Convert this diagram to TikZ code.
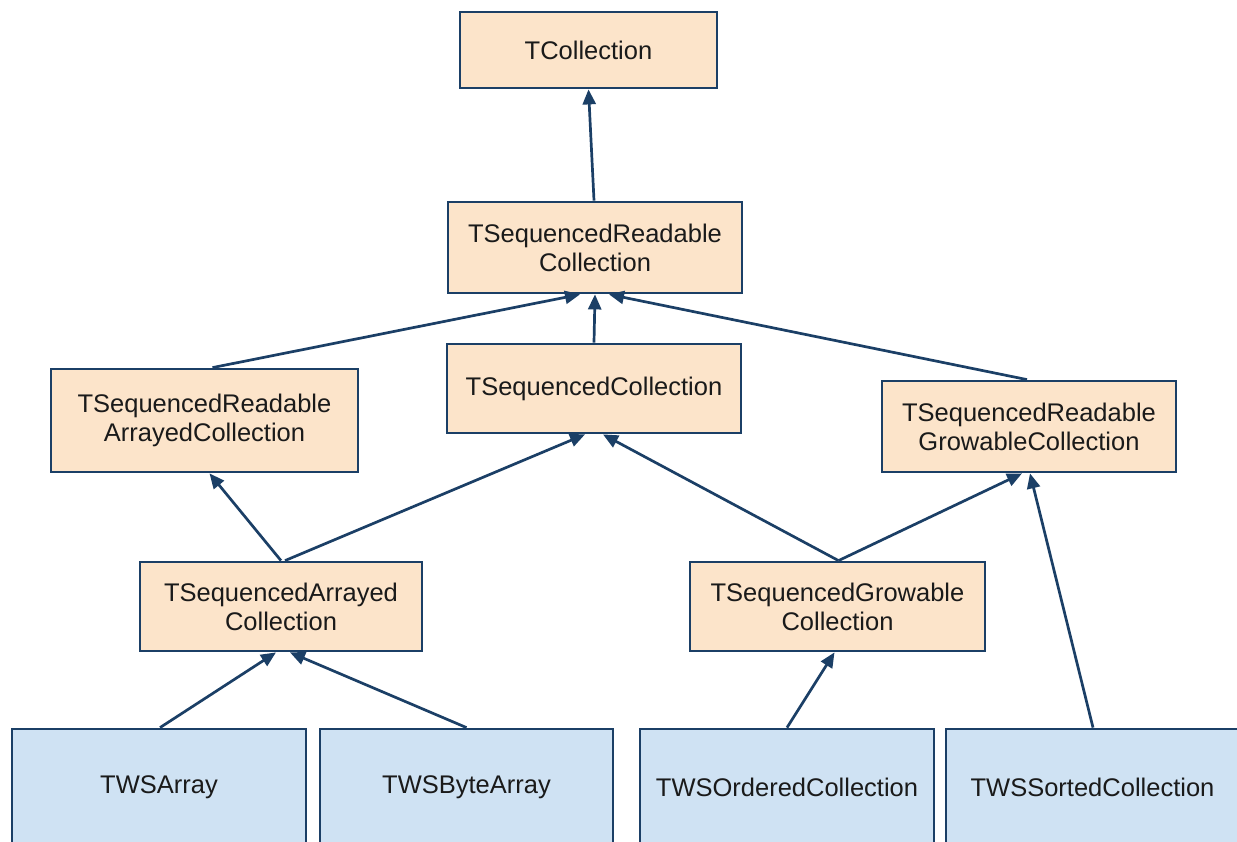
\documentclass[tikz,border=0pt]{standalone}
\usepackage{fontspec}
\setmainfont{Liberation Sans}
\usetikzlibrary{arrows.meta,calc}
\definecolor{edgeblue}{HTML}{1B3F66}
\definecolor{peach}{HTML}{FCE4CA}
\definecolor{paleblue}{HTML}{CFE2F3}
\definecolor{ink}{HTML}{1A1A1A}
\tikzset{
  cls/.style={draw=edgeblue, line width=2.8pt, fill=peach, text=ink,
    inner sep=0pt, align=center, font=\fontsize{25.5}{29}\selectfont},
  leaf/.style={cls, fill=paleblue},
  inh/.style={draw=edgeblue, line width=2.7pt,
    -{Triangle[length=15pt,width=13pt]}},
}
\begin{document}
\begin{tikzpicture}[x=1pt,y=-1pt]
\useasboundingbox (0,0) rectangle (1237,841);
\clip (0,0) rectangle (1237,841);
% abstract classes
\node[cls, minimum width=257pt, minimum height=76pt] (tcol) at (588.5,50) {TCollection};
\node[cls, minimum width=294pt, minimum height=91pt] (tsrc) at (595,247.5) {TSequencedReadable\\Collection};
\node[cls, minimum width=307pt, minimum height=103pt] (tsrac) at (204.5,420.5) {TSequencedReadable\\ArrayedCollection};
\node[cls, minimum width=294pt, minimum height=89pt] (tsc) at (594,388.5) {TSequencedCollection};
\node[cls, minimum width=294pt, minimum height=91pt] (tsrgc) at (1029,426.5) {TSequencedReadable\\GrowableCollection};
\node[cls, minimum width=282pt, minimum height=89pt] (tsac) at (281,606.5) {TSequencedArrayed\\Collection};
\node[cls, minimum width=295pt, minimum height=89pt] (tsgc) at (837.5,606.5) {TSequencedGrowable\\Collection};
% concrete classes
\node[leaf, minimum width=294pt, minimum height=116pt] (wsa) at (159,787) {TWSArray};
\node[leaf, minimum width=293pt, minimum height=116pt] (wsba) at (466.5,787) {TWSByteArray};
\node[leaf, minimum width=294pt, minimum height=116pt] (wsoc) at (787,787) {TWSOrderedCollection};
\node[leaf, minimum width=293pt, minimum height=116pt] (wssc) at (1092.5,787) {TWSSortedCollection};
% inheritance links
\draw[inh] ($(tsrc.north)+(-1,0)$) -- (tcol.south);
\draw[inh] ($(tsrac.north)+(8,0)$) -- ($(tsrc.south)+(-15,0)$);
\draw[inh] (tsc.north) -- (tsrc.south);
\draw[inh] ($(tsrgc.north)+(-2,0)$) -- ($(tsrc.south)+(14,0)$);
\draw[inh] (tsac.north) -- ($(tsrac.south)+(5,0)$);
\draw[inh] ($(tsac.north)+(4,0)$) -- ($(tsc.south)+(-9,0)$);
\draw[inh] ($(tsgc.north)+(1,0)$) -- ($(tsc.south)+(9,0)$);
\draw[inh] ($(tsgc.north)+(1,0)$) -- ($(tsrgc.south)+(-7,0)$);
\draw[inh] ($(wsa.north)+(1,0)$) -- ($(tsac.south)+(-5,0)$);
\draw[inh] (wsba.north) -- ($(tsac.south)+(9,0)$);
\draw[inh] (wsoc.north) -- ($(tsgc.south)+(-3,0)$);
\draw[inh] ($(wssc.north)+(0.5,0)$) -- ($(tsrgc.south)+(1,0)$);
\end{tikzpicture}
\end{document}
